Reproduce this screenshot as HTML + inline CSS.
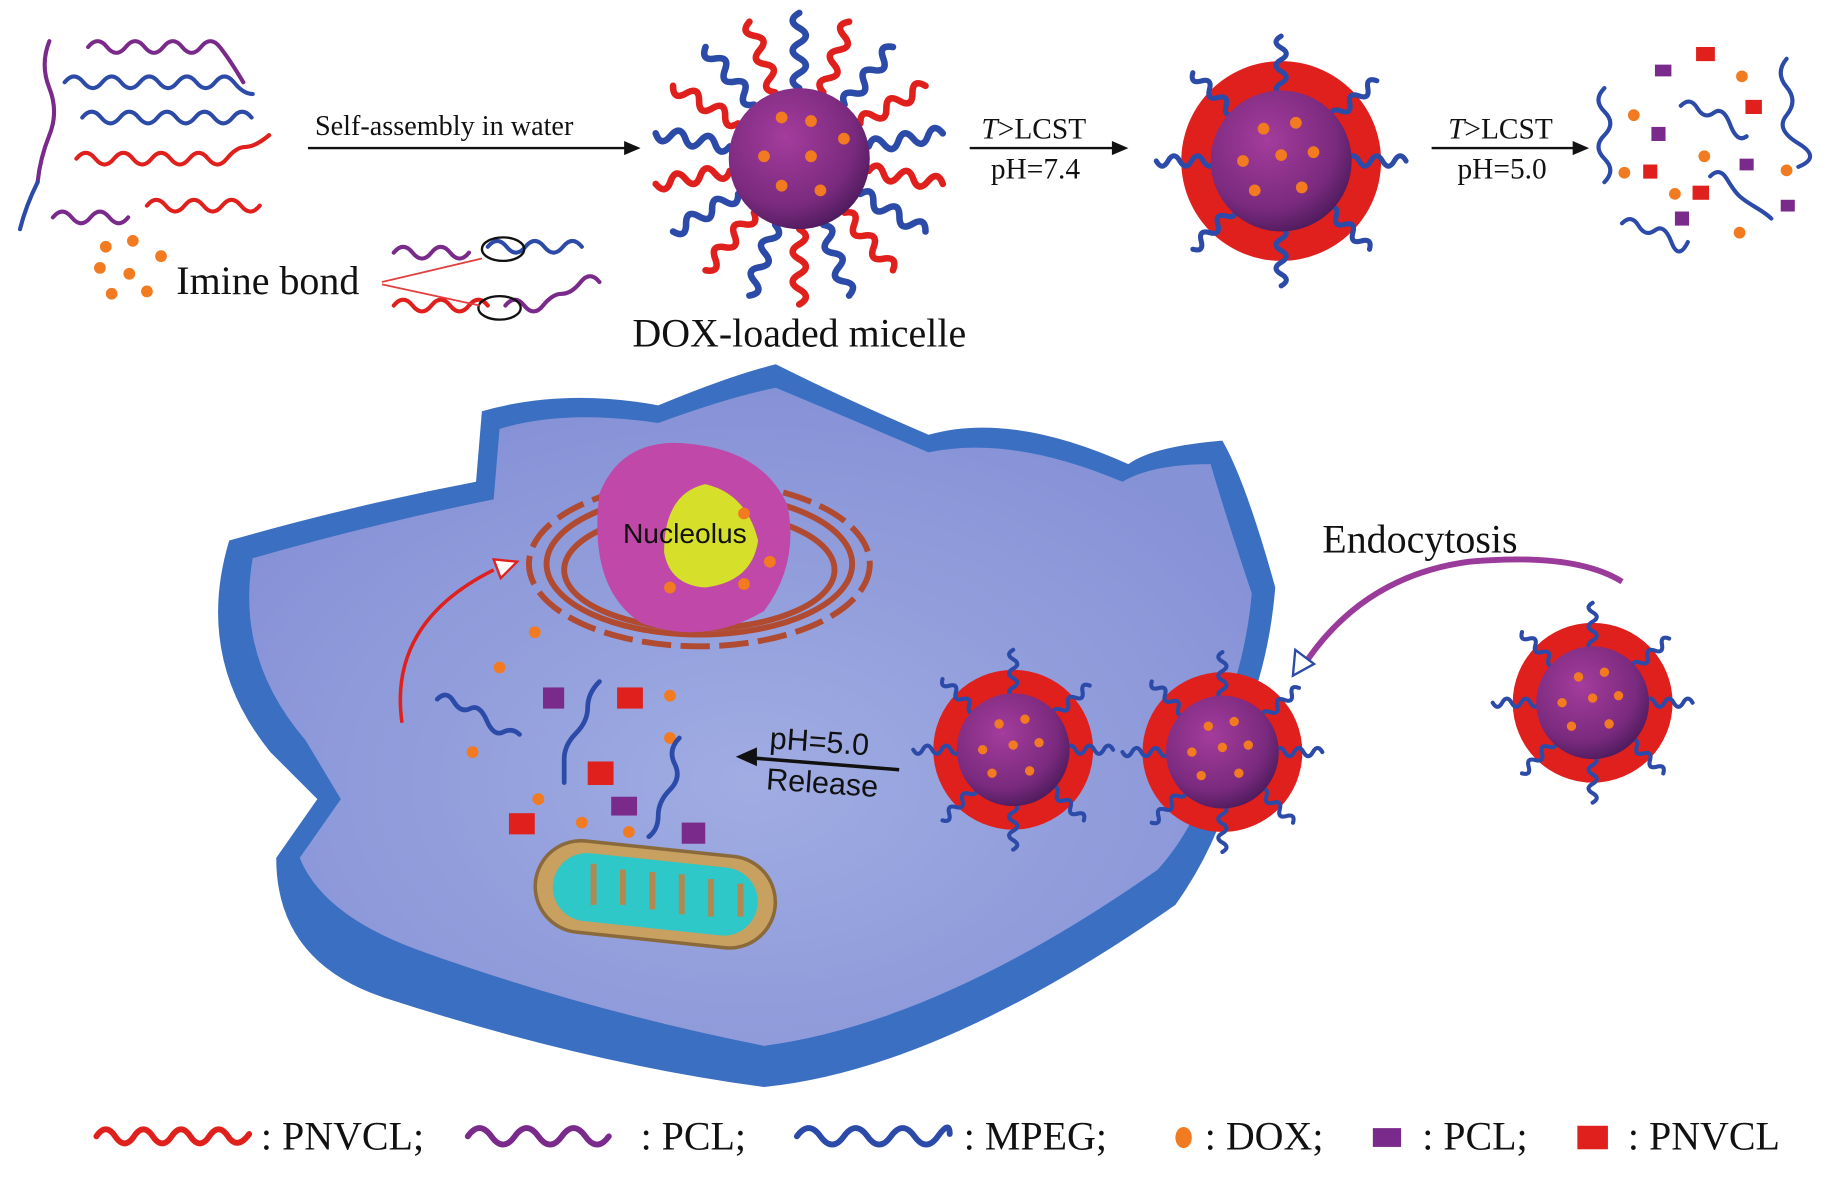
<!DOCTYPE html>
<html><head><meta charset="utf-8"><style>
html,body{margin:0;padding:0;background:#fff;}
svg{display:block}
text{font-family:"Liberation Serif",serif;fill:#111}
.s{font-family:"Liberation Sans",sans-serif}
</style></head><body>
<svg width="1843" height="1181" viewBox="0 0 1568 1005" preserveAspectRatio="none" xmlns="http://www.w3.org/2000/svg">
<defs>
<radialGradient id="core" cx="0.4" cy="0.35" r="0.7"><stop offset="0" stop-color="#a43c9c"/><stop offset="0.7" stop-color="#7a2a7e"/><stop offset="1" stop-color="#4a1a5a"/></radialGradient>
<radialGradient id="cyt" cx="0.5" cy="0.6" r="0.6"><stop offset="0" stop-color="#a0ace2"/><stop offset="1" stop-color="#8692d6"/></radialGradient>
<path id="w" d="M0 0 q4 -7 8 0 t8 0 t8 0 t8 0 t8 0" fill="none" stroke-width="3.5" stroke-linecap="round"/>
<g id="mic">
<circle r="68" fill="#e0201c"/>
<g stroke="#2c4aa8" stroke-width="3" fill="none">
<use href="#w" stroke="#2c4aa8" transform="rotate(-90) translate(45,0)"/>
<use href="#w" stroke="#2c4aa8" transform="rotate(-40) translate(45,0)"/>
<use href="#w" stroke="#2c4aa8" transform="rotate(0) translate(45,0)"/>
<use href="#w" stroke="#2c4aa8" transform="rotate(45) translate(45,0)"/>
<use href="#w" stroke="#2c4aa8" transform="rotate(90) translate(45,0)"/>
<use href="#w" stroke="#2c4aa8" transform="rotate(135) translate(45,0)"/>
<use href="#w" stroke="#2c4aa8" transform="rotate(180) translate(45,0)"/>
<use href="#w" stroke="#2c4aa8" transform="rotate(225) translate(45,0)"/>
</g>
<circle r="48" fill="url(#core)"/>
<g fill="#f27a20"><circle cx="-12" cy="-22" r="4"/><circle cx="10" cy="-26" r="4"/><circle cx="-26" cy="0" r="4"/><circle cx="0" cy="-4" r="4"/><circle cx="22" cy="-6" r="4"/><circle cx="-18" cy="20" r="4"/><circle cx="14" cy="18" r="4"/></g>
</g>
</defs>

<g fill="none" stroke-width="3.5" stroke-linecap="round">
<path d="M42 35 q-8 20 0 40 t0 40 t-10 40" stroke="#7a2a8a"/>
<path d="M32 155 q-10 20 -15 40" stroke="#2c4aa8"/>
<path d="M75 40 q8 -10 16 0 t16 0 t16 0 t16 0 t16 0 t16 0 t16 0 t20 30" stroke="#7a2a8a"/>
<path d="M55 70 q8 -10 16 0 t16 0 t16 0 t16 0 t16 0 t16 0 t16 0 t16 0 t16 0 t16 10" stroke="#2c4aa8"/>
<path d="M70 100 q8 -10 16 0 t16 0 t16 0 t16 0 t16 0 t16 0 t16 0 t16 0 t16 0" stroke="#2c4aa8"/>
<path d="M65 135 q8 -10 16 0 t16 0 t16 0 t16 0 t16 0 t16 0 t16 0 t16 0 t16 -10 t20 -10" stroke="#e0201c"/>
<path d="M45 185 q8 -10 16 0 t16 0 t16 0 t16 0" stroke="#7a2a8a"/>
<path d="M125 175 q8 -10 16 0 t16 0 t16 0 t16 0 t16 0 t16 0" stroke="#e0201c"/>
<path d="M335 215 q8 -10 16 0 t16 0 t16 0 t16 0" stroke="#7a2a8a"/>
<path d="M415 210 q8 -10 16 0 t16 0 t16 0 t16 0 t16 0" stroke="#2c4aa8"/>
<path d="M335 260 q8 -10 16 0 t16 0 t16 0 t16 0 t16 0" stroke="#e0201c"/>
<path d="M430 260 q8 -10 16 0 t16 0 t16 -10 t16 -10 t16 0" stroke="#7a2a8a"/>
</g>
<ellipse cx="428" cy="212" rx="18" ry="10" fill="none" stroke="#111" stroke-width="2"/>
<ellipse cx="425" cy="262" rx="18" ry="10" fill="none" stroke="#111" stroke-width="2"/>
<line x1="325" y1="240" x2="410" y2="220" stroke="#e04040" stroke-width="1.5"/>
<line x1="325" y1="242" x2="408" y2="260" stroke="#e04040" stroke-width="1.5"/>
<g fill="#f27a20"><circle cx="90" cy="210" r="5"/><circle cx="113" cy="205" r="5"/><circle cx="137" cy="218" r="5"/><circle cx="85" cy="228" r="5"/><circle cx="110" cy="233" r="5"/><circle cx="95" cy="250" r="5"/><circle cx="125" cy="248" r="5"/></g>
<text x="150" y="250" font-size="34">Imine bond</text>

<line x1="262" y1="126" x2="535" y2="126" stroke="#111" stroke-width="2"/>
<path d="M545 126 l-14 -6 v12z" fill="#111"/>
<text x="268" y="115" font-size="24">Self-assembly in water</text>

<g fill="none" stroke-width="3.5" stroke-linecap="round">
<g transform="translate(680,135)">
<use href="#w" stroke="#2c4aa8" transform="rotate(-90) translate(60,0) scale(1.6)"/>
<use href="#w" stroke="#e0201c" transform="rotate(-110) translate(60,0) scale(1.6)"/>
<use href="#w" stroke="#2c4aa8" transform="rotate(-130) translate(60,0) scale(1.6)"/>
<use href="#w" stroke="#e0201c" transform="rotate(-150) translate(60,0) scale(1.6)"/>
<use href="#w" stroke="#2c4aa8" transform="rotate(-170) translate(60,0) scale(1.6)"/>
<use href="#w" stroke="#e0201c" transform="rotate(170) translate(60,0) scale(1.6)"/>
<use href="#w" stroke="#2c4aa8" transform="rotate(150) translate(60,0) scale(1.6)"/>
<use href="#w" stroke="#e0201c" transform="rotate(130) translate(60,0) scale(1.6)"/>
<use href="#w" stroke="#2c4aa8" transform="rotate(110) translate(60,0) scale(1.6)"/>
<use href="#w" stroke="#e0201c" transform="rotate(90) translate(60,0) scale(1.6)"/>
<use href="#w" stroke="#2c4aa8" transform="rotate(70) translate(60,0) scale(1.6)"/>
<use href="#w" stroke="#e0201c" transform="rotate(50) translate(60,0) scale(1.6)"/>
<use href="#w" stroke="#2c4aa8" transform="rotate(30) translate(60,0) scale(1.6)"/>
<use href="#w" stroke="#e0201c" transform="rotate(10) translate(60,0) scale(1.6)"/>
<use href="#w" stroke="#2c4aa8" transform="rotate(-10) translate(60,0) scale(1.6)"/>
<use href="#w" stroke="#e0201c" transform="rotate(-30) translate(60,0) scale(1.6)"/>
<use href="#w" stroke="#2c4aa8" transform="rotate(-50) translate(60,0) scale(1.6)"/>
<use href="#w" stroke="#e0201c" transform="rotate(-70) translate(60,0) scale(1.6)"/>
</g>
</g>
<circle cx="680" cy="135" r="60" fill="url(#core)"/>
<g fill="#f27a20"><circle cx="665" cy="100" r="5"/><circle cx="690" cy="103" r="5"/><circle cx="650" cy="133" r="5"/><circle cx="690" cy="133" r="5"/><circle cx="718" cy="118" r="5"/><circle cx="665" cy="158" r="5"/><circle cx="698" cy="162" r="5"/></g>
<text x="538" y="295" font-size="34">DOX-loaded micelle</text>

<line x1="825" y1="126" x2="948" y2="126" stroke="#111" stroke-width="2"/>
<path d="M960 126 l-14 -6 v12z" fill="#111"/>
<text x="835" y="118" font-size="25"><tspan font-style="italic">T</tspan>&gt;LCST</text>
<text x="843" y="152" font-size="25">pH=7.4</text>

<g transform="translate(1090,137) scale(1.25)"><use href="#mic"/></g>

<line x1="1218" y1="126" x2="1340" y2="126" stroke="#111" stroke-width="2"/>
<path d="M1352 126 l-14 -6 v12z" fill="#111"/>
<text x="1232" y="118" font-size="25"><tspan font-style="italic">T</tspan>&gt;LCST</text>
<text x="1240" y="152" font-size="25">pH=5.0</text>

<g fill="none" stroke="#2c4aa8" stroke-width="3.5" stroke-linecap="round">
<path d="M1365 75 q-10 10 0 20 t0 20 t0 20 t0 20"/>
<path d="M1520 50 q-10 12 0 24 t0 24 t10 24 t0 20"/>
<path d="M1430 90 q8 -8 14 2 t14 4 t14 10 t14 10"/>
<path d="M1455 150 q8 -8 14 2 t10 14 t14 10 t14 10"/>
<path d="M1380 190 q8 -8 14 2 t14 4 t14 10 t14 0"/>
</g>
<g fill="#f27a20"><circle cx="1390" cy="98" r="5"/><circle cx="1482" cy="65" r="5"/><circle cx="1450" cy="133" r="5"/><circle cx="1382" cy="147" r="5"/><circle cx="1425" cy="165" r="5"/><circle cx="1520" cy="145" r="5"/><circle cx="1480" cy="198" r="5"/></g>
<g fill="#e0201c"><rect x="1443" y="40" width="16" height="12"/><rect x="1485" y="85" width="14" height="12"/><rect x="1398" y="140" width="12" height="12"/><rect x="1440" y="158" width="14" height="12"/></g>
<g fill="#7a2a8a"><rect x="1408" y="55" width="14" height="10"/><rect x="1405" y="108" width="12" height="12"/><rect x="1480" y="135" width="12" height="10"/><rect x="1515" y="170" width="12" height="10"/><rect x="1425" y="180" width="12" height="12"/></g>

<path d="M410 350 L405 410 Q300 430 195 460 Q165 560 230 640 L270 680 L235 730 Q235 820 330 850 Q500 905 650 925 Q800 910 1000 770 Q1050 700 1060 610 Q1080 560 1085 500 Q1060 410 1040 375 Q980 380 960 395 Q860 350 790 370 Q720 340 660 310 Q620 320 560 345 Q480 330 410 350Z" fill="#3a6fc2"/>
<path d="M425 365 L420 425 Q320 445 215 475 Q200 560 260 630 L290 680 L255 730 Q275 780 360 810 Q500 860 650 890 Q800 870 985 740 Q1030 690 1040 610 Q1060 560 1065 505 Q1040 430 1030 395 Q980 395 955 410 Q860 370 790 385 Q720 355 660 330 Q620 338 560 360 Q480 348 425 365Z" fill="url(#cyt)"/>

<g fill="none" stroke="#b04a30" stroke-width="5">
<ellipse cx="595" cy="480" rx="130" ry="60"/>
<ellipse cx="595" cy="485" rx="115" ry="50"/>
<ellipse cx="595" cy="480" rx="145" ry="70" stroke-dasharray="25 8"/>
</g>
<path d="M510 420 Q530 370 590 378 Q650 385 670 430 Q680 480 650 520 Q600 550 545 530 Q500 500 510 420Z" fill="#c048a8"/>
<path d="M565 470 Q565 420 600 412 Q635 420 645 460 Q640 495 600 500 Q570 498 565 470Z" fill="#d6e02a"/>
<text class="s" x="530" y="462" font-size="24">Nucleolus</text>
<g fill="#f27a20"><circle cx="633" cy="437" r="5"/><circle cx="655" cy="478" r="5"/><circle cx="633" cy="497" r="5"/><circle cx="570" cy="500" r="5"/><circle cx="455" cy="538" r="5"/><circle cx="425" cy="568" r="5"/><circle cx="402" cy="640" r="5"/><circle cx="570" cy="592" r="5"/><circle cx="570" cy="628" r="5"/><circle cx="458" cy="680" r="5"/><circle cx="495" cy="700" r="5"/><circle cx="535" cy="708" r="5"/></g>

<path d="M342 615 Q330 530 420 485" fill="none" stroke="#e0201c" stroke-width="3"/>
<path d="M440 478 l-20 -2 l6 16z" fill="#fff" stroke="#e0201c" stroke-width="2"/>

<g fill="none" stroke="#2c4aa8" stroke-width="4" stroke-linecap="round">
<path d="M372 595 q8 -8 14 2 t14 6 t14 10 t14 10 t14 2"/>
<path d="M510 580 q-10 10 -10 22 t-10 22 t-10 22 t0 20"/>
<path d="M578 628 q-10 10 -4 22 t-4 22 t-10 22 t-8 18"/>
</g>
<g fill="#e0201c"><rect x="525" y="585" width="22" height="18"/><rect x="500" y="648" width="22" height="20"/><rect x="433" y="692" width="22" height="18"/></g>
<g fill="#7a2a8a"><rect x="462" y="585" width="18" height="18"/><rect x="520" y="678" width="22" height="16"/><rect x="580" y="700" width="20" height="18"/></g>

<rect x="455" y="722" width="205" height="78" rx="39" fill="#c8a060" stroke="#8a6a3a" stroke-width="3" transform="rotate(6 557 761)"/>
<rect x="470" y="732" width="175" height="58" rx="29" fill="#2ec8c8" transform="rotate(6 557 761)"/>
<g stroke="#b08850" stroke-width="5" fill="none"><path d="M505 735 v35"/><path d="M530 740 v30"/><path d="M555 742 v32"/><path d="M580 744 v34"/><path d="M605 748 v32"/><path d="M630 752 v28"/></g>

<line x1="640" y1="645" x2="765" y2="655" stroke="#111" stroke-width="3"/>
<path d="M626 644 l18 -8 v16z" fill="#111"/>
<text class="s" x="655" y="640" font-size="26" transform="rotate(4 700 630)">pH=5.0</text>
<text class="s" x="652" y="675" font-size="26" transform="rotate(4 700 665)">Release</text>

<g transform="translate(862,638)"><use href="#mic"/></g>
<g transform="translate(1040,640)"><use href="#mic"/></g>
<g transform="translate(1355,598)"><use href="#mic"/></g>

<text x="1125" y="470" font-size="34">Endocytosis</text>
<path d="M1380 495 Q1340 470 1250 478 Q1160 490 1110 565" fill="none" stroke="#9a3a9a" stroke-width="5"/>
<path d="M1100 575 l2 -22 l16 12z" fill="#fff" stroke="#2c4aa8" stroke-width="2"/>

<g fill="none" stroke-width="5" stroke-linecap="round">
<path d="M82 967 q8 -12 16 0 t16 0 t16 0 t16 0 t16 0 t16 0 t16 0 t18 -2" stroke="#e0201c"/>
<path d="M398 967 q10 -14 20 0 t20 0 t20 0 t20 0 t20 0 t20 0" stroke="#7a2a8a"/>
<path d="M678 967 q10 -14 20 0 t20 0 t20 0 t20 0 t20 0 t20 0 t10 -2" stroke="#2c4aa8"/>
</g>
<text x="222" y="978" font-size="34">: PNVCL;</text>
<text x="545" y="978" font-size="34">: PCL;</text>
<text x="820" y="978" font-size="34">: MPEG;</text>
<ellipse cx="1007" cy="968" rx="7" ry="9" fill="#f27a20"/>
<text x="1025" y="978" font-size="34">: DOX;</text>
<rect x="1168" y="960" width="24" height="16" fill="#7a2a8a"/>
<text x="1210" y="978" font-size="34">: PCL;</text>
<rect x="1342" y="958" width="26" height="20" fill="#e0201c"/>
<text x="1385" y="978" font-size="34">: PNVCL</text>
</svg>
</body></html>
